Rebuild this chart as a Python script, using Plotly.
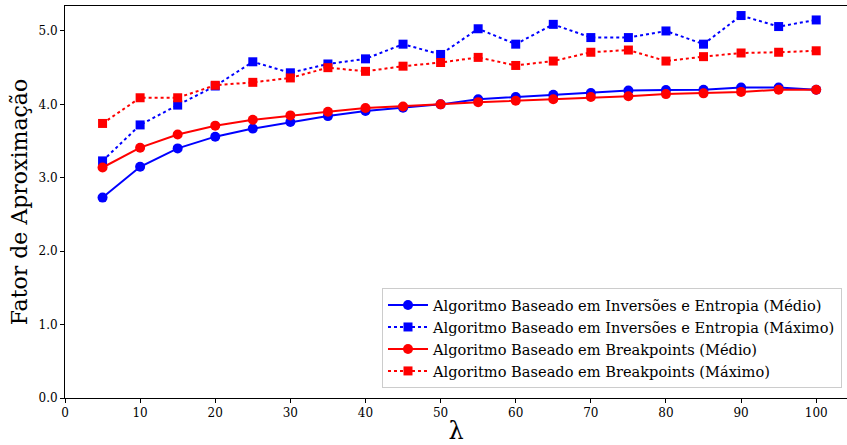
import plotly.graph_objects as go

# lambda values
lam = [5, 10, 15, 20, 25, 30, 35, 40, 45, 50, 55, 60, 65, 70, 75, 80, 85, 90, 95, 100]

# Approximation factors
inv_medio = [2.73, 3.15, 3.40, 3.56, 3.67, 3.76, 3.84, 3.91, 3.955, 4.00,
             4.07, 4.10, 4.13, 4.155, 4.19, 4.195, 4.20, 4.23, 4.23, 4.20]
inv_maximo = [3.23, 3.72, 3.99, 4.25, 4.58, 4.43, 4.55, 4.62, 4.82, 4.68,
              5.03, 4.82, 5.09, 4.91, 4.91, 5.00, 4.82, 5.21, 5.06, 5.15]
bp_medio = [3.14, 3.41, 3.59, 3.71, 3.79, 3.85, 3.90, 3.95, 3.97, 4.00,
            4.03, 4.05, 4.07, 4.10, 4.11, 4.14, 4.15, 4.17, 4.20, 4.20]
bp_maximo = [3.74, 4.09, 4.09, 4.26, 4.30, 4.36, 4.50, 4.45, 4.52, 4.57,
             4.64, 4.53, 4.59, 4.71, 4.74, 4.59, 4.65, 4.70, 4.71, 4.73]

series = [
    ("Algoritmo Baseado em Inversões e Entropia (Médio)", inv_medio, "#0000ff", "solid", "circle"),
    ("Algoritmo Baseado em Inversões e Entropia (Máximo)", inv_maximo, "#0000ff", "dot", "square"),
    ("Algoritmo Baseado em Breakpoints (Médio)", bp_medio, "#ff0000", "solid", "circle"),
    ("Algoritmo Baseado em Breakpoints (Máximo)", bp_maximo, "#ff0000", "dot", "square"),
]

FONT = "DejaVu Serif"

fig = go.Figure()
for name, vals, color, dash, sym in series:
    fig.add_trace(go.Scatter(
        x=lam, y=vals, name=name, mode="lines+markers",
        line=dict(color=color, width=2, dash=dash),
        marker=dict(color=color, symbol=sym, size=10 if sym == "circle" else 9),
    ))

fig.update_layout(
    width=847, height=445,
    margin=dict(l=65, r=0, t=6, b=47),
    plot_bgcolor="white", paper_bgcolor="white",
    font=dict(family=FONT, color="black", size=12),
    showlegend=True,
    legend=dict(
        x=0.9936, y=0.0255, xanchor="right", yanchor="bottom",
        bgcolor="rgba(255,255,255,0.8)", bordercolor="#cccccc", borderwidth=1,
        font=dict(family=FONT, size=14.6), tracegroupgap=0, itemwidth=40,
    ),
    xaxis=dict(
        range=[0, 104.1], tickmode="array", tickvals=list(range(0, 101, 10)),
        showgrid=False, zeroline=False, showline=True, linecolor="black", linewidth=1,
        mirror=True, ticks="outside", ticklen=4, tickcolor="black",
        title=dict(text="λ", font=dict(size=24, family=FONT), standoff=8),
    ),
    yaxis=dict(
        range=[0, 5.34], tickmode="array", tickvals=[0, 1, 2, 3, 4, 5],
        tickformat=".1f",
        showgrid=False, zeroline=False, showline=True, linecolor="black", linewidth=1,
        ticks="outside", ticklen=4, tickcolor="black",
        title=dict(text="Fator de Aproximação", font=dict(size=22, family=FONT), standoff=4),
    ),
)

fig.write_html("out.html")
